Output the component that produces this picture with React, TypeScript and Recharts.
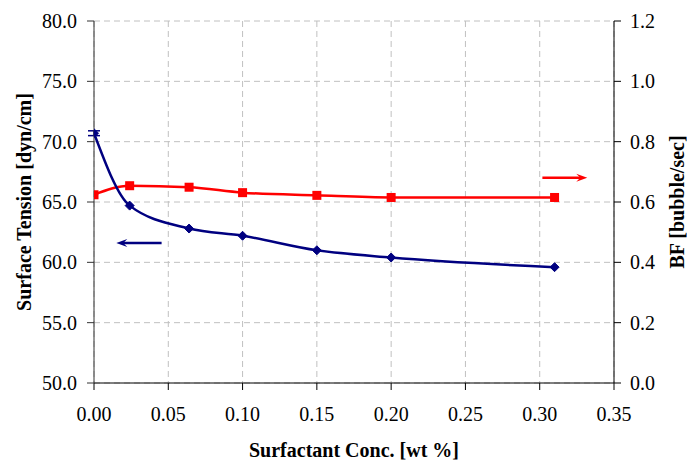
import { ComposedChart, Line, XAxis, YAxis, CartesianGrid, ErrorBar, ReferenceLine, Label } from "recharts";

const conc = [0, 0.024, 0.064, 0.1, 0.15, 0.2, 0.31];
const surfaceTension = [70.7, 64.7, 62.8, 62.2, 61.0, 60.4, 59.6];
const tensionError = [0.2, 0, 0, 0, 0, 0, 0];
const bubbleFreq = [0.624, 0.654, 0.649, 0.631, 0.622, 0.615, 0.615];

const xTicks = [0, 0.05, 0.1, 0.15, 0.2, 0.25, 0.3, 0.35];
const leftTicks = [50, 55, 60, 65, 70, 75, 80];
const rightTicks = [0, 0.2, 0.4, 0.6, 0.8, 1.0, 1.2];

const data = conc.map((x, i) => ({
  x,
  st: surfaceTension[i],
  err: tensionError[i],
  bf: bubbleFreq[i],
}));

const NAVY = "#000080";
const RED = "#ff0000";
const FONT = "'Liberation Serif', 'Times New Roman', serif";

const textStyle = { fontFamily: FONT, fontSize: 20, fill: "#000" };

// recharts drops fontFamily on the default tick, so draw ticks ourselves
function makeTick(anchor: "start" | "middle" | "end", digits: number) {
  return (props: any) => {
    const { x, y, payload } = props;
    return (
      <text x={x} y={y} textAnchor={anchor} dy={anchor === "middle" ? "0.71em" : "0.355em"} style={textStyle}>
        {Number(payload.value).toFixed(digits)}
      </text>
    );
  };
}

function Diamond(props: any) {
  const { cx, cy } = props;
  if (cx == null || cy == null) return null;
  const r = 4.5;
  return <polygon points={`${cx},${cy - r} ${cx + r},${cy} ${cx},${cy + r} ${cx - r},${cy}`} fill={NAVY} stroke={NAVY} />;
}

function Square(props: any) {
  const { cx, cy } = props;
  if (cx == null || cy == null) return null;
  const s = 9;
  return <rect x={cx - s / 2} y={cy - s / 2} width={s} height={s} fill={RED} />;
}

function arrow(color: string, pointLeft: boolean) {
  return (props: any) => {
    const { x1, y1, x2, y2 } = props;
    const tipX = pointLeft ? Math.min(x1, x2) : Math.max(x1, x2);
    const tailX = pointLeft ? Math.max(x1, x2) : Math.min(x1, x2);
    const y = (y1 + y2) / 2;
    const d = pointLeft ? 1 : -1;
    return (
      <g>
        <line x1={tailX} y1={y} x2={tipX + d * 6} y2={y} stroke={color} strokeWidth={2.5} />
        <polygon points={`${tipX},${y} ${tipX + d * 11},${y - 4} ${tipX + d * 7},${y} ${tipX + d * 11},${y + 4}`} fill={color} />
      </g>
    );
  };
}

const titleStyle = { fontFamily: FONT, fontSize: 20, fontWeight: "bold", fill: "#000", textAnchor: "middle" } as const;

export default function App() {
  return (
    <div style={{ position: "absolute", left: 0, top: 0, background: "#fff" }}>
      <ComposedChart width={687} height={462} data={data} margin={{ top: 21, right: 0, bottom: 0, left: 0 }}>
        <CartesianGrid yAxisId="left" stroke="#c0c0c0" strokeDasharray="6 4" />
        <XAxis
          type="number"
          dataKey="x"
          domain={[0, 0.35]}
          ticks={xTicks}
          tick={makeTick("middle", 2)}
          tickSize={7}
          tickMargin={17}
          height={79}
          stroke="#000"
          allowDataOverflow
        >
          <Label value="Surfactant Conc. [wt %]" position="center" dy={27} style={titleStyle} />
        </XAxis>
        <YAxis
          yAxisId="left"
          domain={[50, 80]}
          ticks={leftTicks}
          tick={makeTick("end", 1)}
          tickSize={7}
          tickMargin={10}
          width={94}
          stroke="#333"
          allowDataOverflow
        >
          <Label value="Surface Tension [dyn/cm]" angle={-90} position="center" dx={-23} style={titleStyle} />
        </YAxis>
        <YAxis
          yAxisId="right"
          orientation="right"
          domain={[0, 1.2]}
          ticks={rightTicks}
          tick={makeTick("start", 1)}
          tickSize={7}
          tickMargin={9}
          width={73}
          stroke="#000"
          allowDataOverflow
        >
          <Label value="BF [bubble/sec]" angle={-90} position="center" dx={26} style={titleStyle} />
        </YAxis>
        <Line
          yAxisId="right"
          type="monotone"
          dataKey="bf"
          stroke={RED}
          strokeWidth={2.5}
          dot={<Square />}
          activeDot={false}
          isAnimationActive={false}
        />
        <Line
          yAxisId="left"
          type="monotone"
          dataKey="st"
          stroke={NAVY}
          strokeWidth={2.5}
          dot={<Diamond />}
          activeDot={false}
          isAnimationActive={false}
        >
          <ErrorBar dataKey="err" width={6} stroke={NAVY} strokeWidth={1.5} direction="y" isAnimationActive={false} />
        </Line>
        <ReferenceLine
          yAxisId="left"
          segment={[{ x: 0.015, y: 61.6 }, { x: 0.0455, y: 61.6 }]}
          shape={arrow(NAVY, true)}
        />
        <ReferenceLine
          yAxisId="right"
          segment={[{ x: 0.3018, y: 0.68 }, { x: 0.332, y: 0.68 }]}
          shape={arrow(RED, false)}
        />
      </ComposedChart>
    </div>
  );
}
